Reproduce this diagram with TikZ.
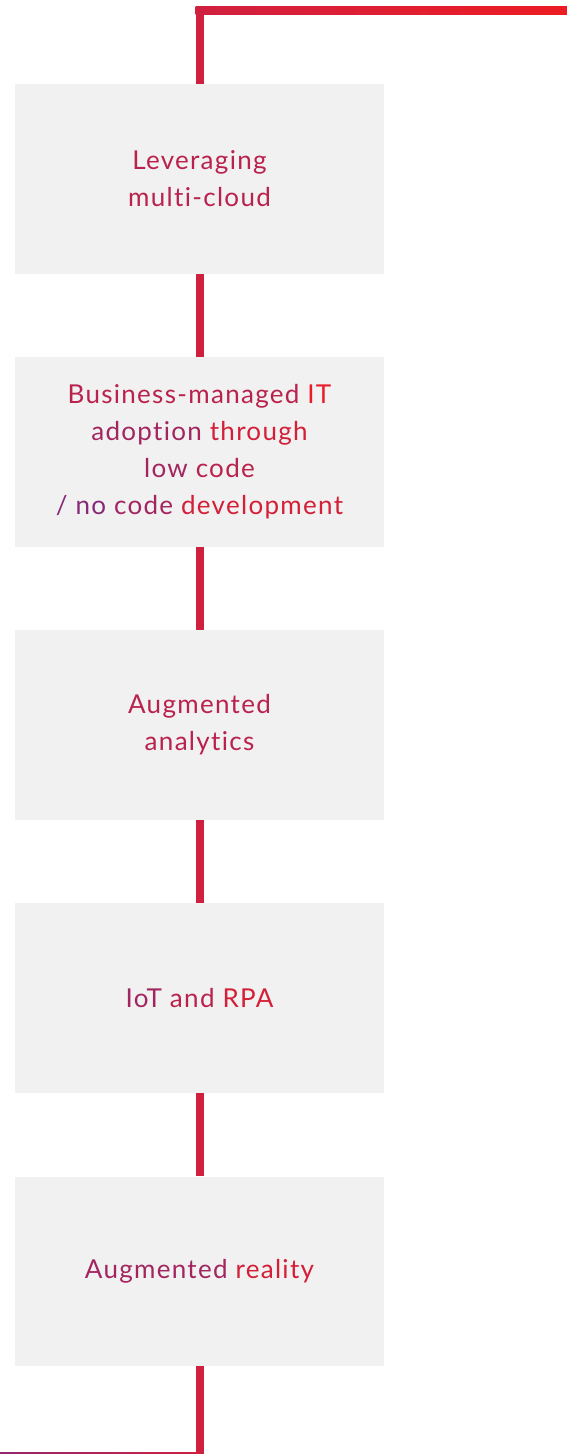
\documentclass[tikz,border=0pt]{standalone}
\usepackage{fontspec}
\setmainfont{Lato}[LetterSpace=5, Ligatures=NoCommon]
\usetikzlibrary{positioning}
\definecolor{P}{RGB}{123, 42, 128}
\definecolor{R}{RGB}{237, 28, 36}
\definecolor{L}{RGB}{208, 32, 64}
\definecolor{F}{RGB}{241, 241, 241}
\colorlet{T0}{R!10!P}
\colorlet{T1}{R!35!P}
\colorlet{T2}{R!55!P}
\colorlet{T3}{R!78!P}
\colorlet{T4}{R!95!P}

\begin{document}
\begin{tikzpicture}[x=1pt, y=-1pt,
  topic/.style={fill=F, minimum width=369pt, minimum height=189.5pt,
    inner sep=0pt, align=center, font=\fontsize{26}{37}\selectfont},
  link/.style={L, line width=8pt}]
  \useasboundingbox (0,0) rectangle (567,1454);
  \clip (0,0) rectangle (567,1454);
  % frame line
  \coordinate (top) at (199.5,10);
  \coordinate (bottom) at (199.5,1456);
  \fill[left color=L, right color=R] (195.5,6) rectangle (567,14);
  \fill[left color=P!70!L, right color=L] (0,1452) rectangle (203.5,1460);
  % topics
  \node[topic] (cloud) at (199.5,178.75)
    {\textcolor{T2}{Leveraging}\\\textcolor{T2}{multi-cloud}};
  \node[topic, below=83.25pt of cloud] (lowcode)
    {\textcolor{T2}{Business-managed} \textcolor{T4}{IT}\\
     \textcolor{T1}{adoption} \textcolor{T3}{through}\\
     \textcolor{T1}{low} \textcolor{T2}{code}\\
     \textcolor{T0}{/ no} \textcolor{T1}{code} \textcolor{T3}{development}};
  \node[topic, below=83.25pt of lowcode] (analytics)
    {\textcolor{T2}{Augmented}\\\textcolor{T2}{analytics}};
  \node[topic, below=83.25pt of analytics] (iot)
    {\textcolor{T1}{IoT} \textcolor{T2}{and} \textcolor{T3}{RPA}};
  \node[topic, below=83.25pt of iot] (ar)
    {\textcolor{T1}{Augmented} \textcolor{T3}{reality}};
  % links
  \draw[link] (top) -- (cloud);
  \draw[link] (cloud) -- (lowcode);
  \draw[link] (lowcode) -- (analytics);
  \draw[link] (analytics) -- (iot);
  \draw[link] (iot) -- (ar);
  \draw[link] (ar) -- (bottom);
\end{tikzpicture}
\end{document}
